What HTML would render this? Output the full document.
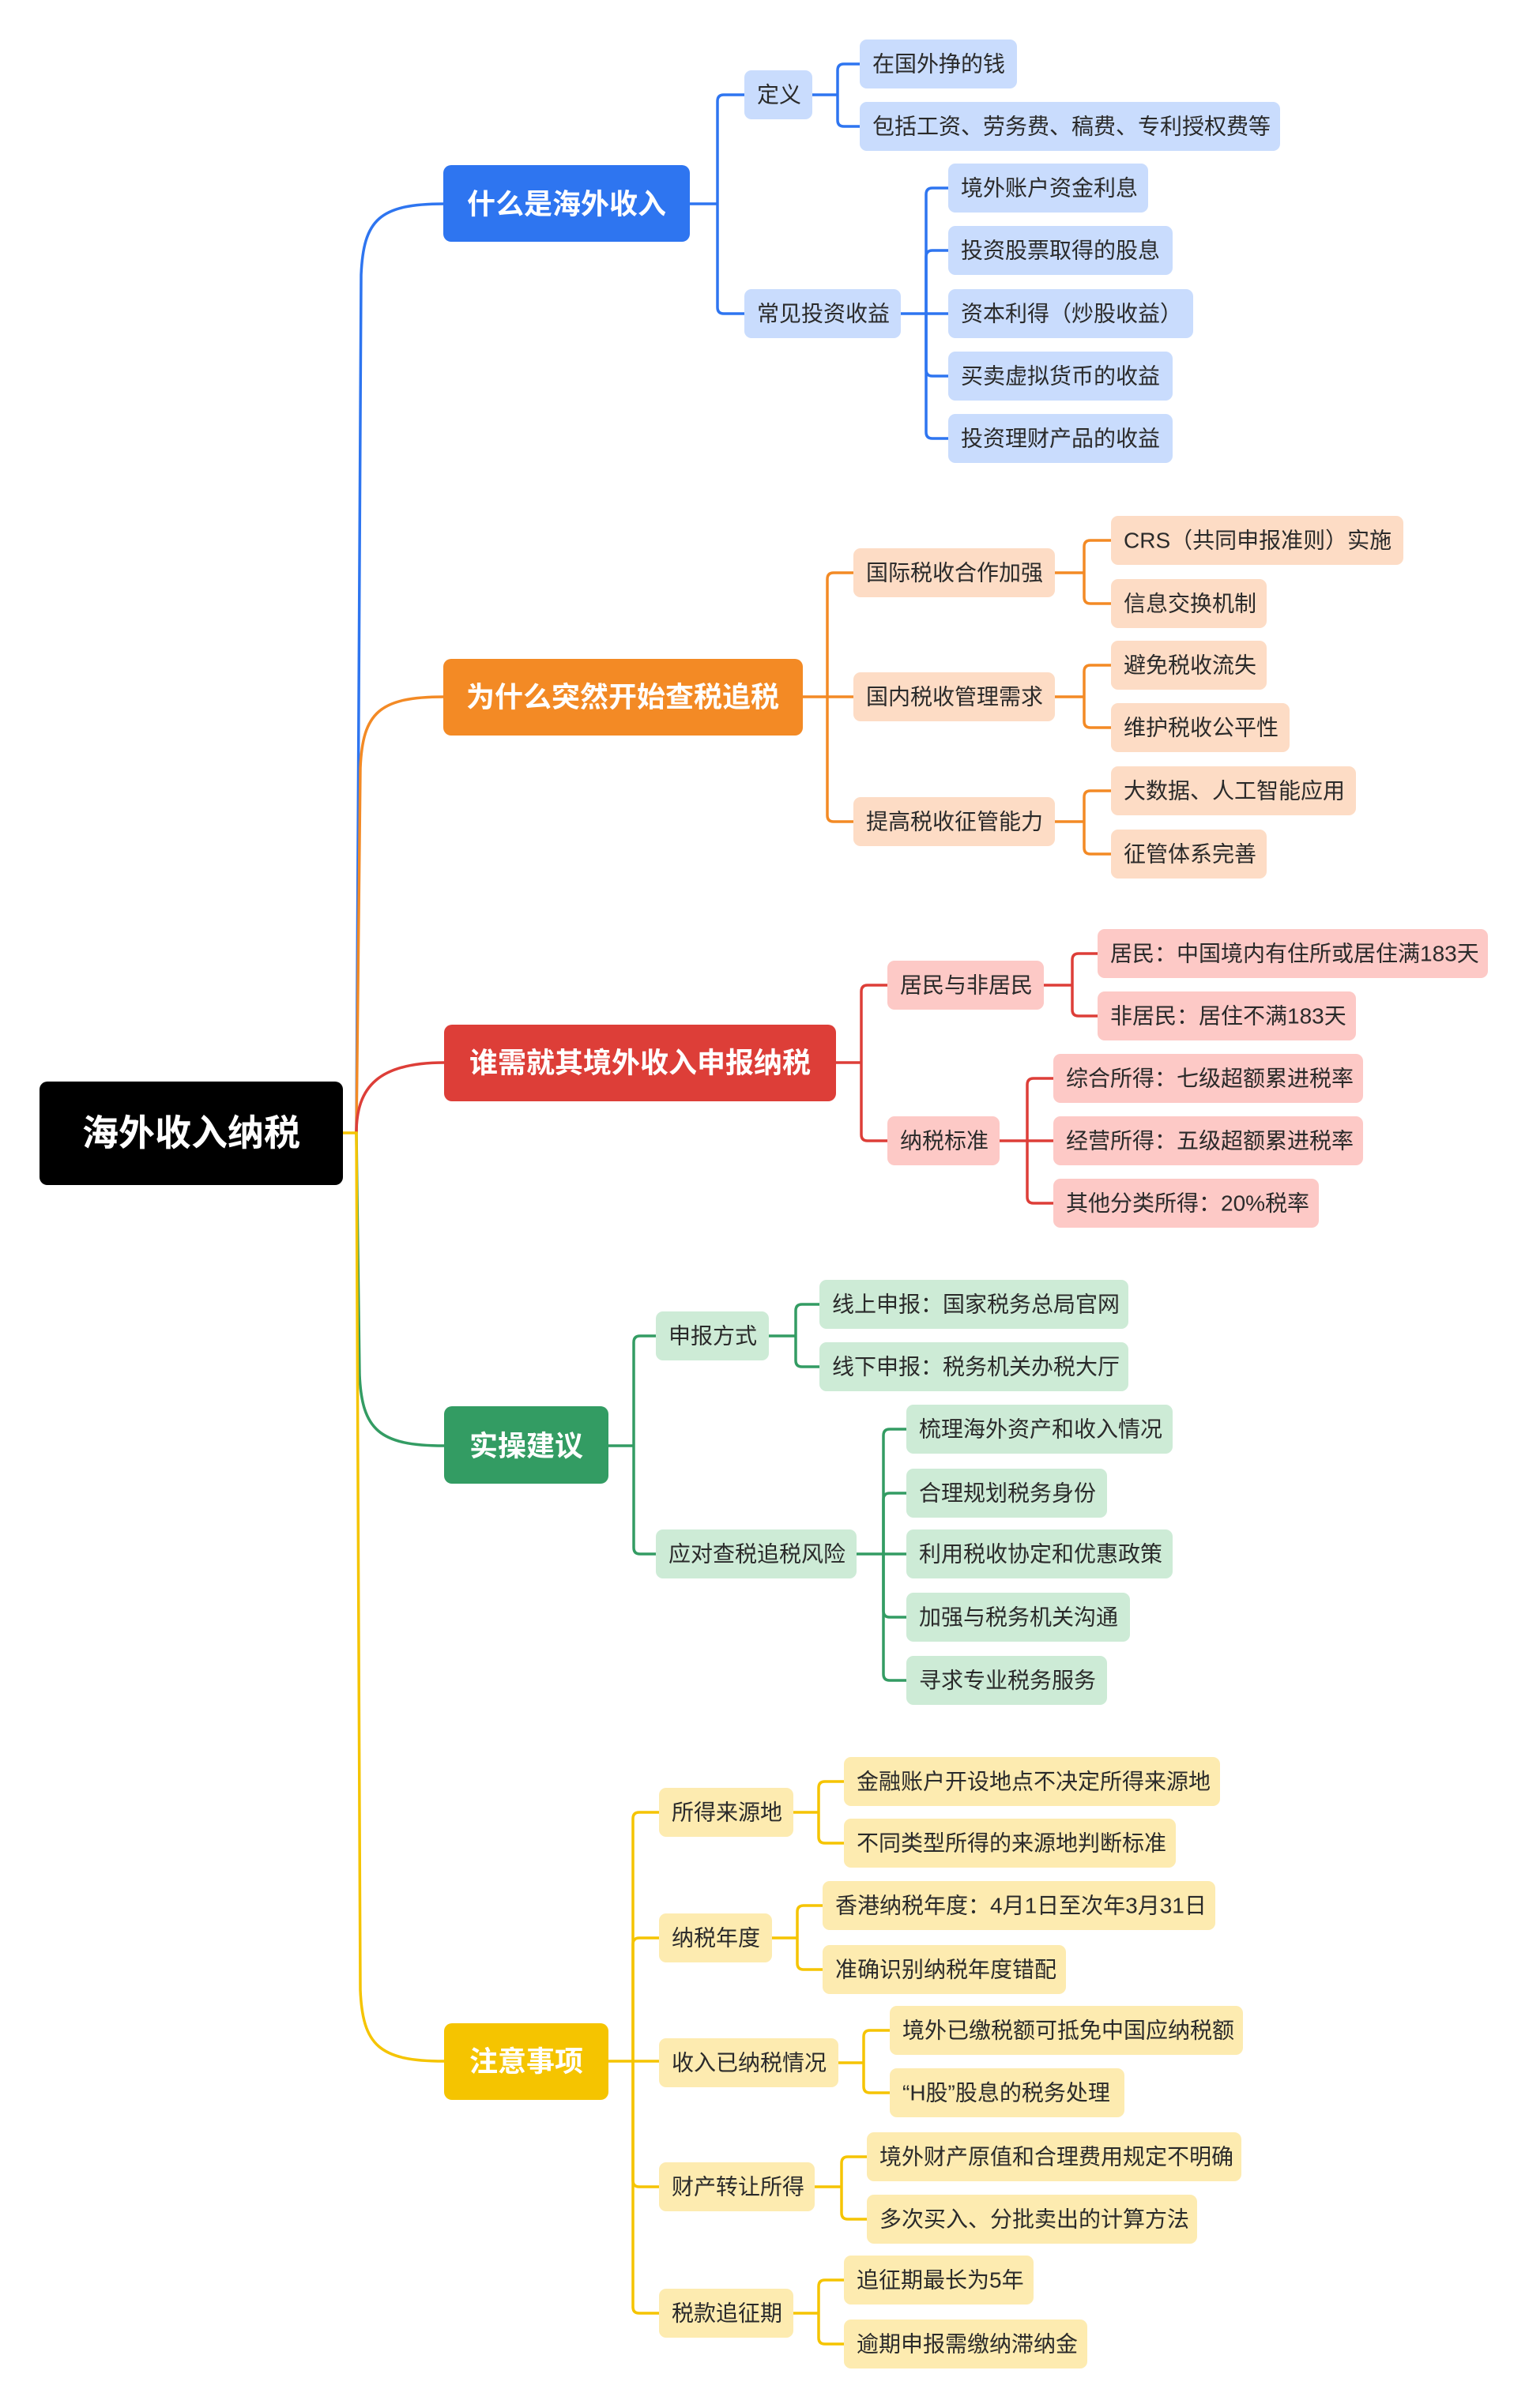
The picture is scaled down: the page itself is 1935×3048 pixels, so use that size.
<!DOCTYPE html>
<html><head><meta charset="utf-8"><style>
html,body{margin:0;padding:0;background:#fff}
svg{display:block}
text{font-family:"Liberation Sans","Noto Sans CJK SC",sans-serif}
.l{font-size:28px;fill:#2a2a2a;dominant-baseline:central}
.m{font-size:36px;font-weight:bold;fill:#fff;dominant-baseline:central;text-anchor:middle}
.c{fill:none;stroke-width:3.5}
</style></head><body>
<svg width="1935" height="3048" viewBox="0 0 1935 3048" xmlns="http://www.w3.org/2000/svg">
<!-- root connectors -->
<path class="c" stroke="#2e75f0" d="M451,1434 L457,348 C460,278 480,258 562,258"/>
<path class="c" stroke="#f38a25" d="M451,1434 L456,972 C459,902 480,882 562,882"/>
<path class="c" stroke="#dd3e38" d="M451,1434 C451,1375 480,1345 562,1345"/>
<path class="c" stroke="#339c63" d="M451,1434 L455,1740 C458,1810 480,1830 562,1830"/>
<path class="c" stroke="#f5c400" d="M434,1434 H451 L456,2519 C459,2589 480,2609 562,2609"/>
<rect x="50" y="1369" width="384" height="131" rx="10" fill="#000"/>
<text class="m" x="242" y="1434" style="font-size:46px">海外收入纳税</text>

<!-- BLUE -->
<g stroke="#2e75f0" class="c">
<path d="M873,258 H908"/>
<path d="M908,258 V128 Q908,120 916,120 H942"/>
<path d="M908,258 V389 Q908,397 916,397 H942"/>
<path d="M1028,120 H1060"/>
<path d="M1060,120 V89 Q1060,81 1068,81 H1088"/>
<path d="M1060,120 V152 Q1060,160 1068,160 H1088"/>
<path d="M1140,397 H1172"/>
<path d="M1172,397 V246 Q1172,238 1180,238 H1200"/>
<path d="M1172,397 V325 Q1172,317 1180,317 H1200"/>
<path d="M1172,397 H1200"/>
<path d="M1172,397 V468 Q1172,476 1180,476 H1200"/>
<path d="M1172,397 V547 Q1172,555 1180,555 H1200"/>
</g>
<rect x="561" y="209" width="312" height="97" rx="10" fill="#2e75f0"/>
<text class="m" x="717" y="258">什么是海外收入</text>
<g fill="#c9dcfd">
<rect x="942" y="89" width="86" height="62" rx="9"/>
<rect x="942" y="366" width="198" height="62" rx="9"/>
<rect x="1088" y="50" width="199" height="62" rx="9"/>
<rect x="1088" y="129" width="532" height="62" rx="9"/>
<rect x="1200" y="207" width="253" height="62" rx="9"/>
<rect x="1200" y="286" width="284" height="62" rx="9"/>
<rect x="1200" y="366" width="310" height="62" rx="9"/>
<rect x="1200" y="445" width="284" height="62" rx="9"/>
<rect x="1200" y="524" width="284" height="62" rx="9"/>
</g>
<text class="l" x="958" y="120">定义</text>
<text class="l" x="958" y="397">常见投资收益</text>
<text class="l" x="1104" y="81">在国外挣的钱</text>
<text class="l" x="1104" y="160">包括工资、劳务费、稿费、专利授权费等</text>
<text class="l" x="1216" y="238">境外账户资金利息</text>
<text class="l" x="1216" y="317">投资股票取得的股息</text>
<text class="l" x="1216" y="397">资本利得（炒股收益）</text>
<text class="l" x="1216" y="476">买卖虚拟货币的收益</text>
<text class="l" x="1216" y="555">投资理财产品的收益</text>

<!-- ORANGE -->
<g stroke="#f38a25" class="c">
<path d="M1016,882 H1047"/>
<path d="M1047,882 V733 Q1047,725 1055,725 H1080"/>
<path d="M1047,882 V1032 Q1047,1040 1055,1040 H1080"/>
<path d="M1047,882 H1080"/>
<path d="M1335,725 H1372"/>
<path d="M1372,725 V692 Q1372,684 1380,684 H1406"/>
<path d="M1372,725 V756 Q1372,764 1380,764 H1406"/>
<path d="M1335,882 H1372"/>
<path d="M1372,882 V850 Q1372,842 1380,842 H1406"/>
<path d="M1372,882 V913 Q1372,921 1380,921 H1406"/>
<path d="M1335,1040 H1372"/>
<path d="M1372,1040 V1009 Q1372,1001 1380,1001 H1406"/>
<path d="M1372,1040 V1073 Q1372,1081 1380,1081 H1406"/>
</g>
<rect x="561" y="834" width="455" height="97" rx="10" fill="#f38a25"/>
<text class="m" x="788" y="882">为什么突然开始查税追税</text>
<g fill="#fddcc5">
<rect x="1080" y="694" width="255" height="62" rx="9"/>
<rect x="1080" y="851" width="255" height="62" rx="9"/>
<rect x="1080" y="1009" width="255" height="62" rx="9"/>
<rect x="1406" y="653" width="370" height="62" rx="9"/>
<rect x="1406" y="733" width="197" height="62" rx="9"/>
<rect x="1406" y="811" width="197" height="62" rx="9"/>
<rect x="1406" y="890" width="226" height="62" rx="9"/>
<rect x="1406" y="970" width="310" height="62" rx="9"/>
<rect x="1406" y="1050" width="197" height="62" rx="9"/>
</g>
<text class="l" x="1096" y="725">国际税收合作加强</text>
<text class="l" x="1096" y="882">国内税收管理需求</text>
<text class="l" x="1096" y="1040">提高税收征管能力</text>
<text class="l" x="1422" y="684">CRS（共同申报准则）实施</text>
<text class="l" x="1422" y="764">信息交换机制</text>
<text class="l" x="1422" y="842">避免税收流失</text>
<text class="l" x="1422" y="921">维护税收公平性</text>
<text class="l" x="1422" y="1001">大数据、人工智能应用</text>
<text class="l" x="1422" y="1081">征管体系完善</text>

<!-- RED -->
<g stroke="#dd3e38" class="c">
<path d="M1058,1345 H1090"/>
<path d="M1090,1345 V1255 Q1090,1247 1098,1247 H1123"/>
<path d="M1090,1345 V1436 Q1090,1444 1098,1444 H1123"/>
<path d="M1321,1247 H1357"/>
<path d="M1357,1247 V1215 Q1357,1207 1365,1207 H1389"/>
<path d="M1357,1247 V1278 Q1357,1286 1365,1286 H1389"/>
<path d="M1265,1444 H1300"/>
<path d="M1300,1444 V1373 Q1300,1365 1308,1365 H1333"/>
<path d="M1300,1444 H1333"/>
<path d="M1300,1444 V1515 Q1300,1523 1308,1523 H1333"/>
</g>
<rect x="562" y="1297" width="496" height="97" rx="10" fill="#dd3e38"/>
<text class="m" x="810" y="1345">谁需就其境外收入申报纳税</text>
<g fill="#fdc9c6">
<rect x="1123" y="1216" width="198" height="62" rx="9"/>
<rect x="1123" y="1413" width="142" height="62" rx="9"/>
<rect x="1389" y="1176" width="494" height="62" rx="9"/>
<rect x="1389" y="1255" width="327" height="62" rx="9"/>
<rect x="1333" y="1334" width="392" height="62" rx="9"/>
<rect x="1333" y="1413" width="392" height="62" rx="9"/>
<rect x="1333" y="1492" width="336" height="62" rx="9"/>
</g>
<text class="l" x="1139" y="1247">居民与非居民</text>
<text class="l" x="1139" y="1444">纳税标准</text>
<text class="l" x="1405" y="1207">居民：中国境内有住所或居住满183天</text>
<text class="l" x="1405" y="1286">非居民：居住不满183天</text>
<text class="l" x="1349" y="1365">综合所得：七级超额累进税率</text>
<text class="l" x="1349" y="1444">经营所得：五级超额累进税率</text>
<text class="l" x="1349" y="1523">其他分类所得：20%税率</text>

<!-- GREEN -->
<g stroke="#339c63" class="c">
<path d="M770,1830 H802"/>
<path d="M802,1830 V1699 Q802,1691 810,1691 H830"/>
<path d="M802,1830 V1959 Q802,1967 810,1967 H830"/>
<path d="M973,1691 H1007"/>
<path d="M1007,1691 V1659 Q1007,1651 1015,1651 H1037"/>
<path d="M1007,1691 V1722 Q1007,1730 1015,1730 H1037"/>
<path d="M1084,1967 H1118"/>
<path d="M1118,1967 V1817 Q1118,1809 1126,1809 H1147"/>
<path d="M1118,1967 V1898 Q1118,1890 1126,1890 H1147"/>
<path d="M1118,1967 H1147"/>
<path d="M1118,1967 V2039 Q1118,2047 1126,2047 H1147"/>
<path d="M1118,1967 V2119 Q1118,2127 1126,2127 H1147"/>
</g>
<rect x="562" y="1780" width="208" height="98" rx="10" fill="#339c63"/>
<text class="m" x="666" y="1830">实操建议</text>
<g fill="#cdebd6">
<rect x="830" y="1660" width="143" height="62" rx="9"/>
<rect x="830" y="1936" width="254" height="62" rx="9"/>
<rect x="1037" y="1620" width="391" height="62" rx="9"/>
<rect x="1037" y="1699" width="391" height="62" rx="9"/>
<rect x="1147" y="1778" width="337" height="62" rx="9"/>
<rect x="1147" y="1859" width="254" height="62" rx="9"/>
<rect x="1147" y="1936" width="337" height="62" rx="9"/>
<rect x="1147" y="2016" width="283" height="62" rx="9"/>
<rect x="1147" y="2096" width="254" height="62" rx="9"/>
</g>
<text class="l" x="846" y="1691">申报方式</text>
<text class="l" x="846" y="1967">应对查税追税风险</text>
<text class="l" x="1053" y="1651">线上申报：国家税务总局官网</text>
<text class="l" x="1053" y="1730">线下申报：税务机关办税大厅</text>
<text class="l" x="1163" y="1809">梳理海外资产和收入情况</text>
<text class="l" x="1163" y="1890">合理规划税务身份</text>
<text class="l" x="1163" y="1967">利用税收协定和优惠政策</text>
<text class="l" x="1163" y="2047">加强与税务机关沟通</text>
<text class="l" x="1163" y="2127">寻求专业税务服务</text>

<!-- YELLOW -->
<g stroke="#f5c400" class="c">
<path d="M770,2609 H801"/>
<path d="M801,2609 V2302 Q801,2294 809,2294 H834"/>
<path d="M801,2609 V2461 Q801,2453 809,2453 H834"/>
<path d="M801,2609 H834"/>
<path d="M801,2609 V2760 Q801,2768 809,2768 H834"/>
<path d="M801,2609 V2920 Q801,2928 809,2928 H834"/>
<path d="M1004,2294 H1036"/>
<path d="M1036,2294 V2263 Q1036,2255 1044,2255 H1068"/>
<path d="M1036,2294 V2325 Q1036,2333 1044,2333 H1068"/>
<path d="M977,2453 H1009"/>
<path d="M1009,2453 V2420 Q1009,2412 1017,2412 H1041"/>
<path d="M1009,2453 V2485 Q1009,2493 1017,2493 H1041"/>
<path d="M1061,2611 H1093"/>
<path d="M1093,2611 V2578 Q1093,2570 1101,2570 H1126"/>
<path d="M1093,2611 V2641 Q1093,2649 1101,2649 H1126"/>
<path d="M1031,2768 H1065"/>
<path d="M1065,2768 V2738 Q1065,2730 1073,2730 H1097"/>
<path d="M1065,2768 V2801 Q1065,2809 1073,2809 H1097"/>
<path d="M1004,2928 H1036"/>
<path d="M1036,2928 V2894 Q1036,2886 1044,2886 H1068"/>
<path d="M1036,2928 V2959 Q1036,2967 1044,2967 H1068"/>
</g>
<rect x="562" y="2561" width="208" height="97" rx="10" fill="#f5c400"/>
<text class="m" x="666" y="2609">注意事项</text>
<g fill="#fdebb0">
<rect x="834" y="2263" width="170" height="62" rx="9"/>
<rect x="834" y="2422" width="143" height="62" rx="9"/>
<rect x="834" y="2580" width="227" height="62" rx="9"/>
<rect x="834" y="2737" width="197" height="62" rx="9"/>
<rect x="834" y="2897" width="170" height="62" rx="9"/>
<rect x="1068" y="2224" width="476" height="62" rx="9"/>
<rect x="1068" y="2302" width="420" height="62" rx="9"/>
<rect x="1041" y="2381" width="497" height="62" rx="9"/>
<rect x="1041" y="2462" width="308" height="62" rx="9"/>
<rect x="1126" y="2539" width="447" height="62" rx="9"/>
<rect x="1126" y="2618" width="297" height="62" rx="9"/>
<rect x="1097" y="2699" width="474" height="62" rx="9"/>
<rect x="1097" y="2778" width="418" height="62" rx="9"/>
<rect x="1068" y="2855" width="240" height="62" rx="9"/>
<rect x="1068" y="2936" width="308" height="62" rx="9"/>
</g>
<text class="l" x="850" y="2294">所得来源地</text>
<text class="l" x="850" y="2453">纳税年度</text>
<text class="l" x="850" y="2611">收入已纳税情况</text>
<text class="l" x="850" y="2768">财产转让所得</text>
<text class="l" x="850" y="2928">税款追征期</text>
<text class="l" x="1084" y="2255">金融账户开设地点不决定所得来源地</text>
<text class="l" x="1084" y="2333">不同类型所得的来源地判断标准</text>
<text class="l" x="1057" y="2412">香港纳税年度：4月1日至次年3月31日</text>
<text class="l" x="1057" y="2493">准确识别纳税年度错配</text>
<text class="l" x="1142" y="2570">境外已缴税额可抵免中国应纳税额</text>
<text class="l" x="1142" y="2649">“H股”股息的税务处理</text>
<text class="l" x="1113" y="2730">境外财产原值和合理费用规定不明确</text>
<text class="l" x="1113" y="2809">多次买入、分批卖出的计算方法</text>
<text class="l" x="1084" y="2886">追征期最长为5年</text>
<text class="l" x="1084" y="2967">逾期申报需缴纳滞纳金</text>
</svg>
</body></html>
